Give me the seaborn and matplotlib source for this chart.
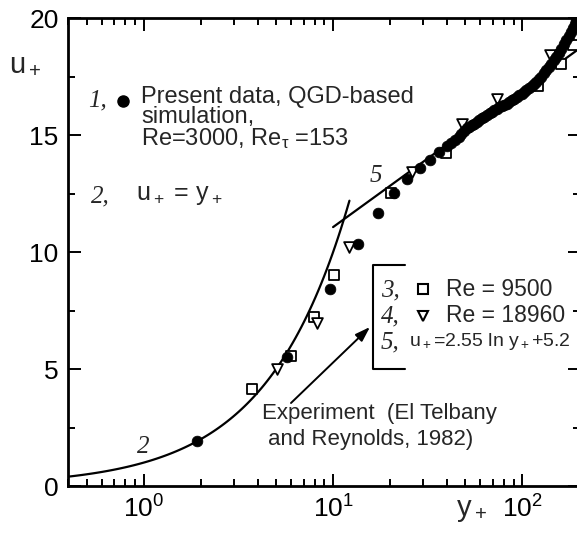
import numpy as np
import pandas as pd
import seaborn as sns
import matplotlib
matplotlib.use("Agg")
import matplotlib.pyplot as plt
from matplotlib.ticker import MultipleLocator, NullFormatter, LogLocator
from matplotlib.lines import Line2D

# Present data, QGD-based simulation (Re=3000, Re_tau=153)
sim_y = [1.91, 5.72, 9.67, 13.47, 17.17, 21.0, 24.7, 28.8, 32.5, 36.4, 39.8, 42.0, 44.0,
         46.0, 47.5, 49.0, 50.7, 52.5, 54.0, 55.5, 57.3, 59.0, 61.0, 63.0, 64.7, 67.0,
         69.0, 71.0, 73.0, 75.5, 78.0, 80.0, 82.4, 85.0, 88.0, 90.5, 93.0, 96.0,
         99.0, 102.0, 105.0, 108.5, 112.0, 115.0, 118.5, 122.0, 126.0, 130.0, 133.7,
         138.0, 142.0, 146.5, 151.0, 155.5, 160.0, 165.0, 170.5, 175.0, 180.0, 184.0,
         188.5, 192.0, 196.0]
sim_u = [1.92, 5.53, 8.42, 10.34, 11.68, 12.51, 13.12, 13.58, 13.93, 14.29, 14.53, 14.66, 14.80,
         14.93, 15.05, 15.17, 15.29, 15.36, 15.43, 15.50, 15.57, 15.64, 15.72, 15.79, 15.85, 15.93,
         16.00, 16.07, 16.14, 16.20, 16.25, 16.30, 16.35, 16.43, 16.50, 16.57, 16.64, 16.71,
         16.78, 16.85, 16.92, 17.01, 17.10, 17.19, 17.28, 17.39, 17.50, 17.64, 17.78,
         17.92, 18.05, 18.20, 18.35, 18.52, 18.70, 18.88, 19.06, 19.23, 19.40, 19.58,
         19.77, 19.93, 20.10]

# Experiment, El Telbany and Reynolds (1982)
re9500_y = [3.72, 6.03, 7.97, 10.07, 20.2, 39.5, 120.8, 160.0, 184.5]
re9500_u = [4.13, 5.56, 7.24, 9.02, 12.51, 14.24, 17.09, 18.06, 18.85]
re18960_y = [5.04, 8.24, 12.08, 26.0, 47.7, 73.0, 140.0]
re18960_u = [4.99, 6.95, 10.23, 13.43, 15.47, 16.57, 18.45]

# Wall laws: viscous sublayer and log law
visc_range = [0.4, 12.2]
log_range = [10.0, 200.0]
kappa_inv, B = 2.55, 5.2

sns.set_style("ticks")
plt.rcParams["font.family"] = ["Liberation Sans", "DejaVu Sans"]
plt.rcParams["mathtext.fontset"] = "custom"
plt.rcParams["mathtext.rm"] = "Liberation Sans"
plt.rcParams["mathtext.it"] = "Liberation Sans"
plt.rcParams["mathtext.default"] = "regular"

W, H = 577, 535
fig = plt.figure(figsize=(W / 100, H / 100), dpi=100)
ax = fig.add_axes([68.3 / W, 49 / H, (579.5 - 68.3) / W, (486 - 18.3) / H])


def px(x, y):
    return (x / W, 1 - y / H)


yv = np.geomspace(visc_range[0], visc_range[1], 100)
yl = np.geomspace(log_range[0], log_range[1], 100)
sns.lineplot(x=yv, y=yv, ax=ax, color="black", lw=1.6, zorder=2)
sns.lineplot(x=yl, y=kappa_inv * np.log(yl) + B, ax=ax, color="black", lw=1.6, zorder=2)

sns.scatterplot(x=re9500_y, y=re9500_u, ax=ax, marker="s", s=48, color="white",
                edgecolor="black", linewidth=1.3, zorder=3)
sns.scatterplot(x=re18960_y, y=re18960_u, ax=ax, marker="v", s=60, color="white",
                edgecolor="black", linewidth=1.3, zorder=3)
sns.scatterplot(x=sim_y, y=sim_u, ax=ax, marker="o", s=60, color="black",
                edgecolor="black", linewidth=0.5, zorder=4)

ax.set_xscale("log")
ax.set_xlim(0.4, 200)
ax.set_ylim(0, 20)
ax.xaxis.set_major_locator(LogLocator(base=10))
ax.xaxis.set_minor_locator(LogLocator(base=10, subs=np.arange(2, 10)))
ax.xaxis.set_minor_formatter(NullFormatter())
ax.yaxis.set_major_locator(MultipleLocator(5))
ax.yaxis.set_minor_locator(MultipleLocator(2.5))
ax.tick_params(which="both", direction="in", top=True, right=True, width=1.4,
               labelsize=19, colors="black")
ax.tick_params(which="major", length=9, pad=7)
ax.tick_params(which="minor", length=5)
for sp in ax.spines.values():
    sp.set_linewidth(2)
    sp.set_color("black")
ax.set_xlabel("")
ax.set_ylabel("")

# axis titles
fig.text(*px(25, 63), r"$u_+$", fontsize=21, ha="center", va="center")
fig.text(*px(472, 510), r"$y_+$", fontsize=21, ha="center", va="center")

serif = dict(family="Liberation Serif", style="italic")
ts = 17
ns = 18

# legend for simulation and viscous law
fig.text(*px(88, 100), "1,", fontsize=ns, va="center", **serif)
fig.lines.append(Line2D([123 / W], [1 - 101 / H], marker="o", ms=8, color="black",
                        transform=fig.transFigure))
fig.text(*px(141, 86), "Present data, QGD-based\nsimulation,\nRe=3000, Re$_\\tau$ =153",
         fontsize=ts, va="top", ha="left", linespacing=0.88)
fig.text(*px(91, 196), "2,", fontsize=ns, va="center", **serif)
fig.text(*px(136, 195), r"$u_+$ = $y_+$", fontsize=18, va="center")

# curve numbers
fig.text(*px(376, 176), "5", fontsize=ns, ha="center", va="center", **serif)
fig.text(*px(143, 447), "2", fontsize=ns, ha="center", va="center", **serif)

# bracketed legend for experiment and log law
bx = [405, 372.7, 372.7, 405]
by = [265, 265, 369, 369]
fig.lines.append(Line2D([x / W for x in bx], [1 - y / H for y in by], color="black",
                        lw=1.5, transform=fig.transFigure))
fig.text(*px(381, 290), "3,", fontsize=ns, va="center", **serif)
fig.lines.append(Line2D([423 / W], [1 - 289 / H], marker="s", ms=6.5, mfc="white",
                        mec="black", mew=1.5, transform=fig.transFigure))
fig.text(*px(446, 290), "Re = 9500", fontsize=16.5, va="center")
fig.text(*px(381, 316), "4,", fontsize=ns, va="center", **serif)
fig.lines.append(Line2D([423 / W], [1 - 316 / H], marker="v", ms=7.5, mfc="white",
                        mec="black", mew=1.5, transform=fig.transFigure))
fig.text(*px(446, 316), "Re = 18960", fontsize=16.5, va="center")
fig.text(*px(381, 342), "5,", fontsize=ns, va="center", **serif)
fig.text(*px(409, 341), r"$u_+$=2.55 ln $y_+$+5.2", fontsize=14, va="center")

# experiment annotation
fig.text(*px(262, 413), "Experiment  (El Telbany", fontsize=16, va="center")
fig.text(*px(268, 440), "and Reynolds, 1982)", fontsize=16, va="center")
ax.annotate("", xy=px(370, 327), xycoords="figure fraction",
            xytext=px(291, 403), textcoords="figure fraction",
            arrowprops=dict(arrowstyle="-|>,head_length=0.9,head_width=0.3",
                            color="black", lw=1.4, shrinkA=0, shrinkB=0))

fig.savefig("out.png", dpi=100)
